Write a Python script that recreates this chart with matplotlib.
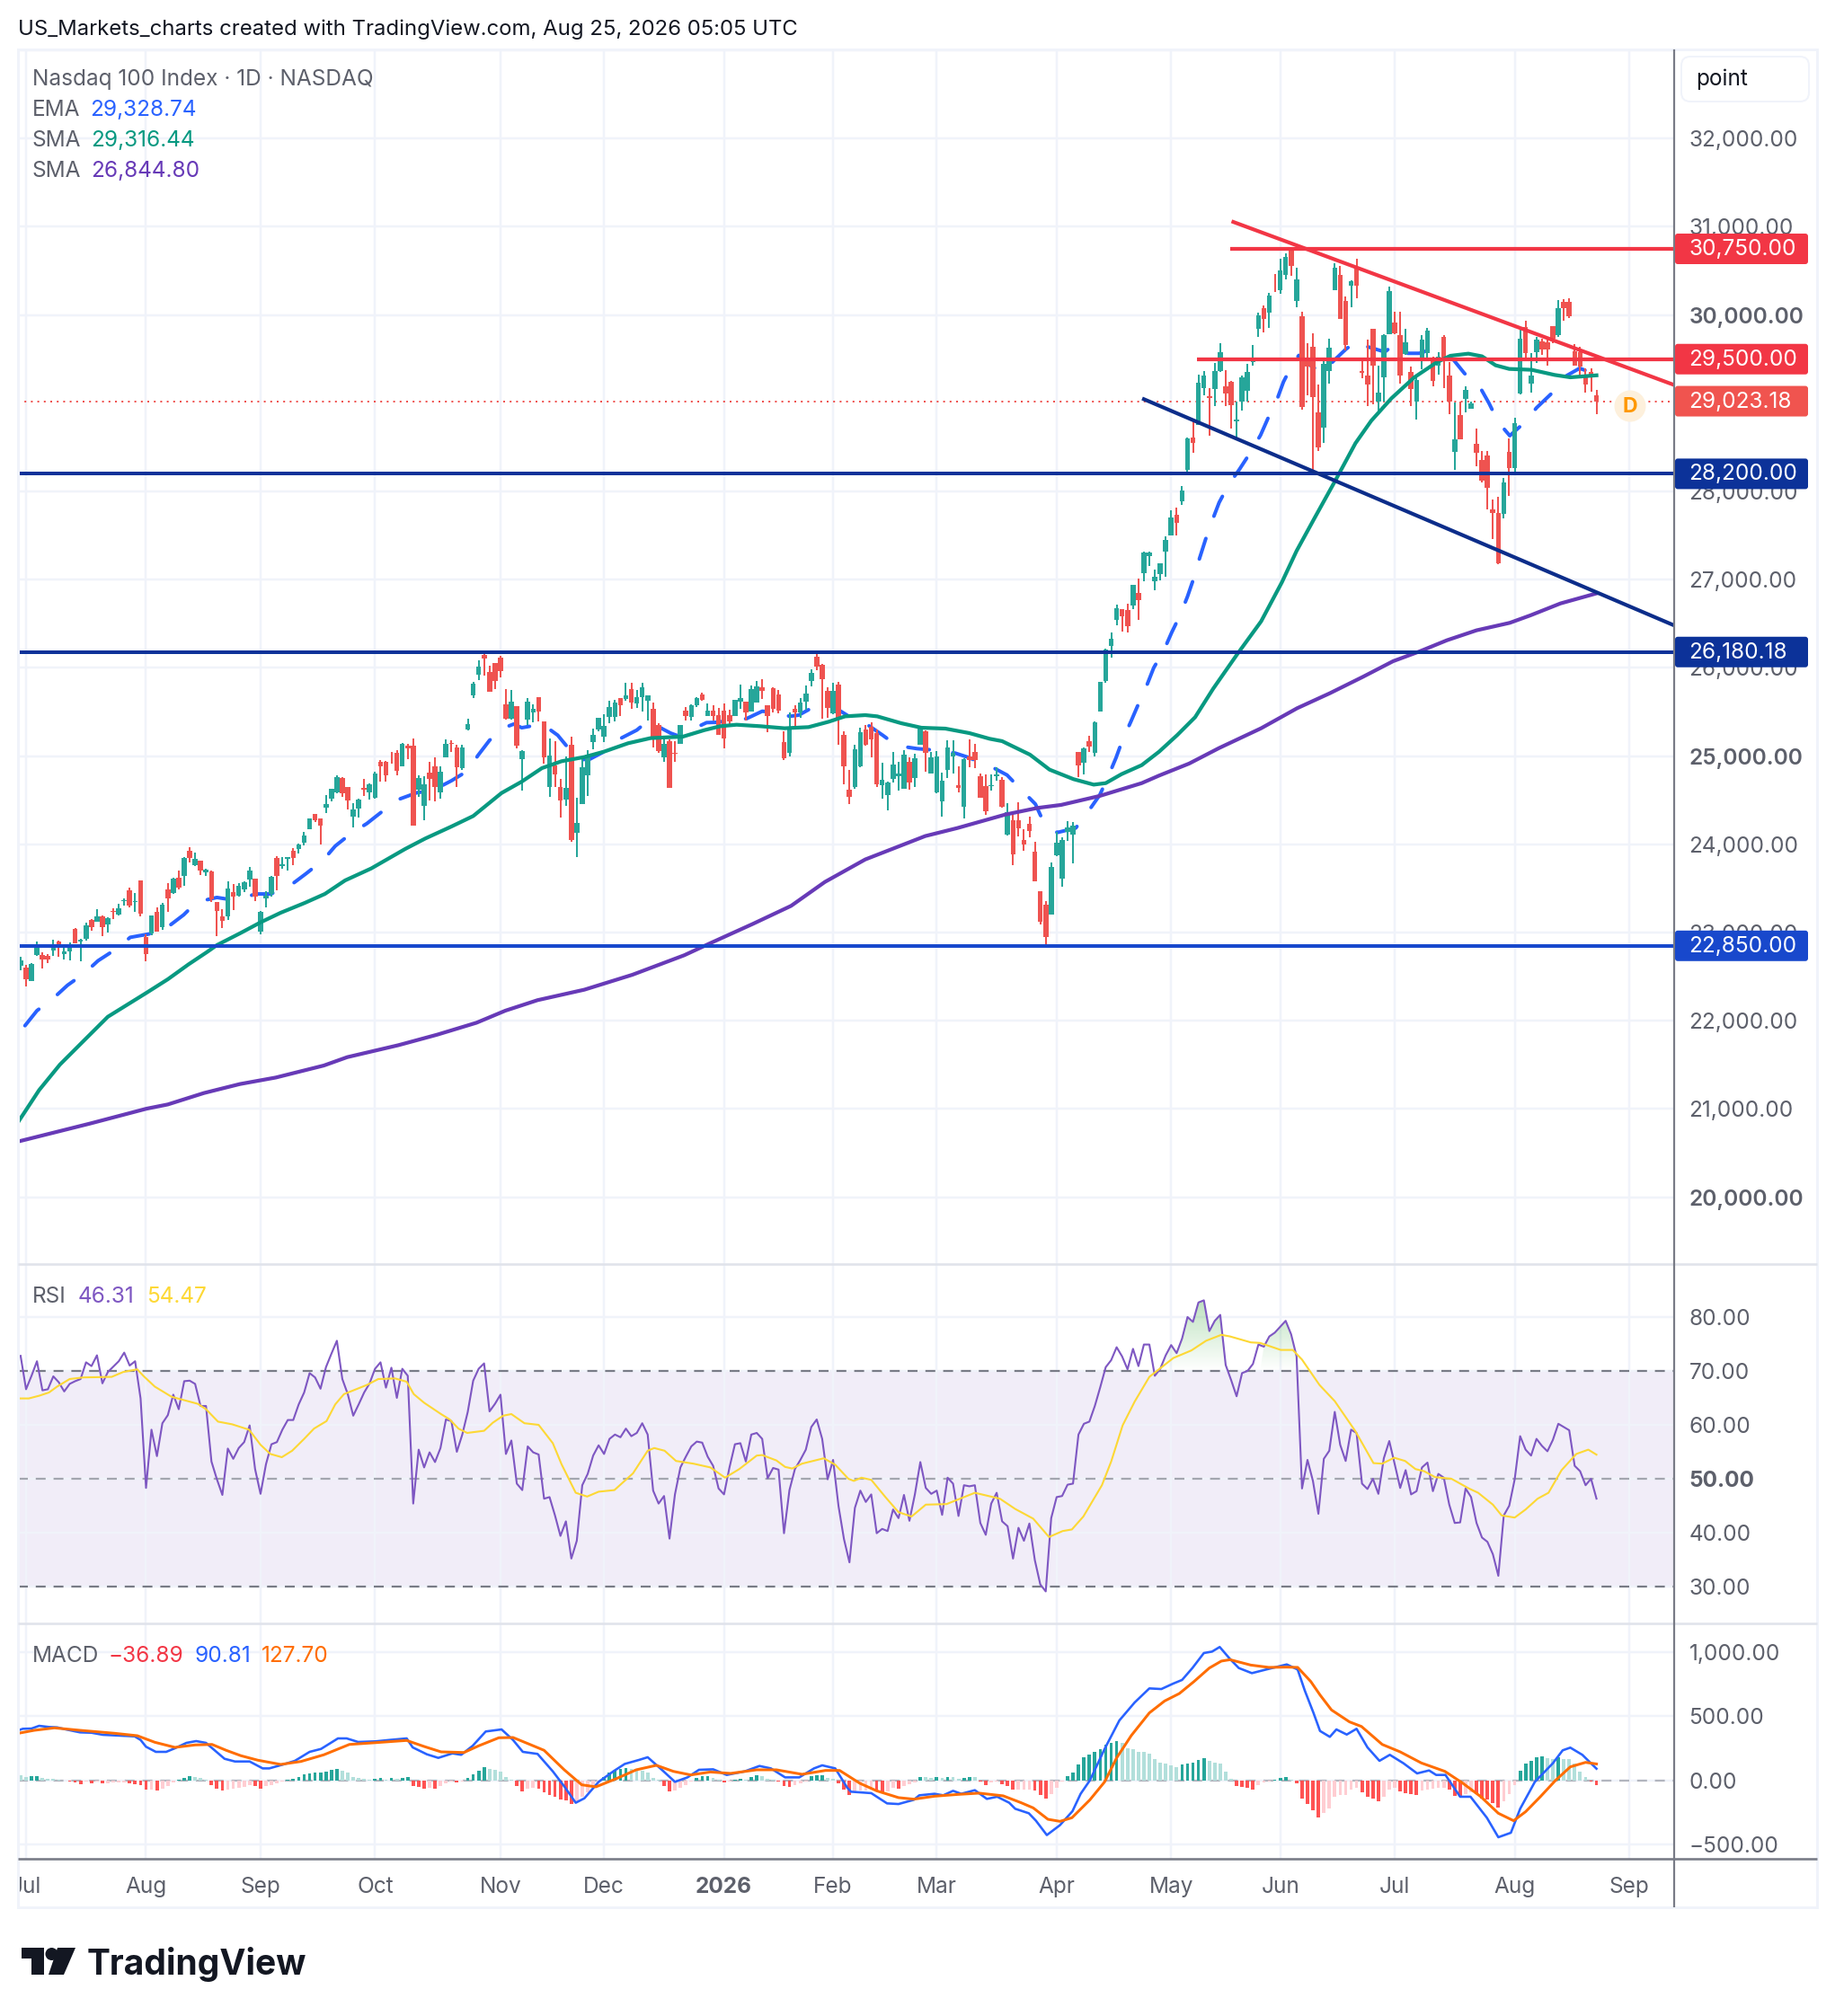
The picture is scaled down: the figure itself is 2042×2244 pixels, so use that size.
import numpy as np
import matplotlib
matplotlib.use("Agg")
import matplotlib.pyplot as plt
from matplotlib.patches import FancyBboxPatch, Polygon, Circle, Rectangle

plt.rcParams['font.family'] = ['Inter', 'DejaVu Sans']
plt.rcParams['ytick.alignment'] = 'center_baseline'
W, H = 2042, 2244

# ---------- candles, first bar is index -1 ----------
opens = [22624,22600,22454,22749,22749,22736,22800,22895,22760,22783,23038,
 22902,22929,23143,23126,23184,23092,23248,23201,23353,23479,
 23347,23591,22946,22987,23235,23058,23489,23449,23618,23642,
 23930,23761,23812,23686,23693,23347,23184,23184,23455,23421,
 23489,23598,23608,23007,23387,23438,23846,23754,23839,23930,
 23947,24015,24175,24345,24294,24416,24518,24586,24755,24650,
 24314,24406,24636,24592,24524,24932,24932,24989,25037,24888,
 25118,25118,24616,24440,24813,24881,24592,24989,25149,25098,
 24860,25305,25689,25926,26147,25950,26052,26113,25587,25424,
 25566,24969,25414,25492,25668,25390,24650,24894,24650,24507,
 25125,24134,24457,24786,25159,25305,25220,25448,25441,25655,
 25651,25757,25594,25669,25628,25533,25350,24983,25170,25041,
 25142,25519,25441,25574,25696,25458,25512,25468,25519,25465,
 25451,25618,25614,25509,25611,25781,25574,25774,25703,25159,
 25041,25540,25492,25618,25848,26127,26035,25740,25485,25811,
 25237,24620,24650,24881,25305,25336,25261,24667,24562,24745,
 24769,24630,24932,24752,25132,25282,24806,24589,24491,24847,
 24993,24667,24430,25000,25051,24773,24660,24657,24773,24735,
 24107,24270,24270,24050,24236,23914,23466,23313,23208,23880,
 23615,24145,24107,25044,24922,25173,25041,25509,25856,26250,
 26545,26667,26657,26708,26850,27078,27271,26983,27064,27319,
 27502,27736,27889,28242,28608,28758,29175,29077,29158,29362,
 29189,29243,28792,29023,29141,29471,29847,30075,30024,30336,
 30285,30458,30753,30160,29986,29481,29640,28894,28727,29362,
 30285,30455,30160,30329,30540,29362,29318,29844,29023,29294,
 29786,29915,29776,29555,29355,29023,29488,29566,29505,29430,
 29752,29311,28452,28863,29050,28941,28537,28361,28405,27801,
 27760,27750,28446,28269,29107,29864,29219,29576,29701,29695,
 29871,29769,30149,30149,29589,29583,29311,29355,29090]
closes = [22681,22471,22641,22872,22692,22695,22872,22827,22783,22861,22878,
 22919,23082,23065,23184,23065,23163,23235,23275,23370,23303,
 23353,23218,22760,23194,23014,23320,23387,23615,23506,23846,
 23846,23835,23703,23710,23377,23245,23133,23499,23411,23530,
 23571,23700,23411,23235,23421,23632,23642,23771,23852,23846,
 23998,24100,24290,24270,24212,24457,24626,24762,24575,24501,
 24395,24507,24619,24684,24806,24888,24786,24983,24837,25139,
 25091,24216,24752,24677,24745,24650,24823,25135,25135,24874,
 25098,25363,25818,26014,26109,25733,25855,25967,25424,25617,
 25118,25057,25617,25539,25505,24989,25006,24796,24497,24636,
 24049,24243,24874,25017,25237,25434,25339,25553,25610,25577,
 25685,25611,25669,25777,25685,25187,25058,25136,24644,25027,
 25350,25451,25580,25655,25638,25519,25451,25244,25204,25397,
 25635,25655,25499,25764,25787,25736,25458,25533,25519,24976,
 25316,25499,25604,25709,25940,26011,25872,25550,25740,25431,
 24888,24535,25078,25271,25126,25187,24677,24728,24701,24901,
 24803,25017,24705,24973,25322,25034,24983,25000,24718,25095,
 25034,24640,24966,24956,24959,24532,24379,24671,24796,24423,
 24365,23890,24185,23999,24155,23585,23126,22953,23744,24022,
 24050,24189,24209,24898,25092,25112,25383,25842,26212,26331,
 26674,26589,26473,26942,26769,27308,27308,27033,27186,27451,
 27705,27644,28011,28605,28554,29233,29311,29063,29362,29576,
 29114,28982,28812,29294,29355,29498,29997,29956,30221,30329,
 30506,30662,30560,30404,28955,29413,29073,28496,29447,29633,
 30540,29956,29657,30380,30336,29345,29216,29430,29118,29776,
 30272,29793,29318,29691,29165,29260,29718,29820,29253,29532,
 29498,29016,28592,28592,29148,28999,28439,28123,28038,27760,
 27190,28106,28269,28775,29729,29566,29311,29722,29610,29606,
 29735,30075,30081,29990,29430,29413,29209,29294,29023.18]
highs = [22726,22634,22651,22895,22776,22760,22919,22905,22838,22885,23048,
 22929,23109,23157,23262,23194,23177,23275,23326,23387,23506,
 23449,23591,22980,23194,23286,23337,23557,23625,23700,23856,
 23964,23903,23812,23727,23700,23347,23269,23581,23550,23557,
 23584,23740,23615,23245,23472,23642,23869,23852,23852,23954,
 24012,24141,24297,24345,24294,24558,24633,24779,24762,24650,
 24463,24514,24738,24694,24820,24955,24949,25050,25067,25146,
 25135,25196,24779,24772,24932,24989,24881,25186,25176,25125,
 25125,25424,25838,26086,26187,26028,26058,26137,25756,25746,
 25566,25067,25655,25587,25668,25390,25196,25169,24738,25000,
 25220,24524,25000,25067,25312,25434,25475,25627,25634,25655,
 25831,25831,25747,25831,25689,25604,25373,25187,25193,25170,
 25350,25553,25587,25669,25723,25594,25574,25543,25594,25526,
 25635,25808,25621,25797,25848,25872,25574,25781,25747,25278,
 25492,25577,25662,25797,25984,26164,26042,25781,25831,25838,
 25278,24847,25126,25322,25356,25383,25305,24925,24711,25051,
 24932,25068,24983,25024,25339,25288,25051,25058,24813,25180,
 25176,24881,24976,25187,25142,24803,24790,24796,24874,24762,
 24467,24372,24474,24168,24311,24026,23473,23354,23795,24141,
 24077,24263,24253,25051,25095,25231,25390,25842,26219,26402,
 26718,26667,26728,26942,27013,27319,27319,27115,27186,27492,
 27787,27817,28062,28615,28819,29328,29362,29175,29457,29678,
 29379,29250,29023,29311,29447,29657,30031,30109,30255,30465,
 30635,30696,30770,30533,30041,29684,29796,29209,29508,29729,
 30584,30557,30210,30397,30635,29498,29718,29844,29430,29786,
 30319,30041,30034,29844,29413,29311,29769,29854,29532,29583,
 29769,29464,29006,29023,29192,29023,28717,28462,28462,27909,
 27943,28157,28598,28836,29837,29939,29566,29752,29735,29735,
 29871,30170,30183,30190,29667,29640,29396,29396,29148]
lows = [22573,22393,22454,22736,22597,22658,22739,22726,22698,22688,22878,
 22675,22912,23024,23126,22963,23004,23157,23194,23303,23286,
 23235,23184,22678,22973,23007,23031,23235,23438,23489,23530,
 23795,23751,23652,23642,23347,22963,23048,23143,23252,23404,
 23455,23523,23360,22980,23286,23404,23479,23720,23703,23768,
 23896,23988,24168,24253,23998,24355,24484,24575,24541,24395,
 24195,24304,24548,24507,24518,24711,24711,24915,24786,24888,
 24966,24216,24541,24270,24497,24490,24518,24989,25050,24653,
 24847,25291,25661,25865,25916,25733,25763,25892,25414,25414,
 25091,24609,25356,25383,25390,24915,24541,24650,24304,24433,
 24032,23856,24457,24548,25078,25281,25159,25373,25390,25458,
 25627,25540,25543,25509,25407,25102,25034,24932,24644,24932,
 25142,25407,25407,25560,25628,25451,25407,25237,25092,25339,
 25451,25533,25407,25502,25607,25652,25271,25492,25485,24959,
 24993,25339,25431,25526,25791,25974,25424,25431,25475,25126,
 24684,24457,24630,24878,25119,24990,24654,24518,24389,24701,
 24610,24630,24620,24650,25132,24823,24800,24582,24318,24752,
 24803,24589,24297,24871,24868,24532,24338,24610,24718,24416,
 24100,23768,24094,23931,24084,23581,23096,22845,23204,23870,
 23524,24043,23788,24762,24796,25051,25000,25509,25832,26120,
 26484,26416,26402,26667,26545,26983,27156,26881,26993,27033,
 27502,27502,27848,28208,28435,28751,29090,28632,28972,29352,
 28972,28717,28581,28921,29023,29430,29752,29803,29854,30261,
 30244,30404,30441,30092,28928,29090,28198,28462,28547,29226,
 30278,29956,29600,30092,30194,29284,28972,28989,28921,29023,
 29786,29786,29226,29545,28972,28819,29386,29481,29192,29328,
 29175,28880,28242,28592,28894,28938,28283,28106,27794,27461,
 27180,27692,27953,28201,29100,29481,29124,29457,29549,29430,
 29684,29752,29939,29966,29430,29294,29124,29131,28880]

# ---------- moving averages: bar index and value at read-off knots ----------
ema_x = [-0.2,2,5.2,7.6,10.7,13.2,16.6,19.1,22.8,25.8,28.9,31.3,35,37.9,42.3,44.9,48.8,51.3,54.5,56.7,59.6,62.5,65.5,68.2,71.7,74.5,78,80.9,82.9,85,88,89.4,90.9,94.7,97.5,100,101.2,103.4,106,108.6,112,114,118.2,119.7,121.3,124.8,126.5,132.1,135,138.4,140,141.7,145,146.5,150.9,153.9,157.1,159.7,163.4,166.7,170.4,172.6,177,179.9,182.5,185.1,186.6,189.1,192.5,194.7,196.9,198.4,199.9,201,202.6,203.9,205.5,206.8,208.7,210.1,211.7,213,214.2,215.2,216.3,217.5,218.8,220.5,222.5,224.5,226.4,227.8,229.4,230.6,232.3,233.4,234.6,237.7,239.8,242.1,244.2,245.5,249.2,250.9,253.4,255.5,257.2,259.6,261.7,263.8,266.7,268.3,270,272.1,275,277,279.7,282,284.9,288]
ema_y = [21945,22115,22267,22403,22539,22681,22817,22946,22987,23055,23201,23347,23398,23370,23438,23438,23550,23666,23822,23981,24124,24236,24382,24507,24586,24609,24721,24830,25010,25180,25329,25363,25322,25363,25237,25050,24959,24966,25051,25187,25295,25397,25261,25227,25278,25380,25383,25424,25509,25492,25451,25465,25577,25621,25451,25373,25237,25119,25085,25068,25034,24990,24881,24786,24620,24457,24253,24134,24185,24365,24559,24762,24983,25170,25390,25577,25797,26001,26205,26402,26606,26810,27027,27241,27455,27665,27875,28072,28249,28439,28639,28836,29040,29243,29447,29542,29464,29345,29481,29616,29708,29650,29582,29667,29566,29566,29600,29549,29498,29338,29175,28999,28785,28632,28792,28948,29107,29294,29396,29328.74]
sma50_x = [-1.5,2.4,6.2,10.6,15,22.1,26,29.8,33.1,35,39.4,43,46.7,51.1,54.8,58.5,63.3,69.5,73.2,78,82,87.2,90.9,94.6,98.2,102.4,106,110.4,114.5,117.8,120.4,124.4,127.3,130.3,134.7,139.1,143.5,147.2,150.2,153.9,156.1,160.5,164.2,168.6,173,176.7,179,184.1,187.7,192.1,195.8,198,200.9,204.6,207.8,211.1,214.4,217.7,222.1,226.5,230.3,233,236.3,240.1,243.8,246.7,250.4,254.6,258.7,261.2,264.5,267,269.5,272,276.1,280.3,283.2,288]
sma50_y = [20848,21215,21503,21775,22046,22318,22471,22640,22776,22858,22997,23116,23225,23336,23438,23591,23727,23947,24066,24202,24321,24582,24711,24864,24942,24990,25051,25146,25204,25214,25220,25295,25339,25356,25339,25316,25329,25390,25451,25465,25451,25373,25322,25312,25261,25197,25170,25017,24847,24739,24677,24694,24796,24898,25051,25238,25442,25764,26154,26528,26970,27326,27699,28123,28547,28802,29056,29294,29464,29538,29562,29532,29430,29389,29379,29321,29294,29316.44]
sma200_x = [-1.5,11.7,22.1,26,32.6,39.2,45.8,54.6,58.9,68.3,75.4,82.6,87.9,93.8,102.4,111.2,120.7,125.2,133.3,140.3,146.5,153.9,164.9,170.8,179.6,185.5,189.8,196.9,204.6,207.8,213.3,218.8,226.5,233.1,239.1,245.2,250.7,255.6,260.6,266,272.1,275.9,281.4,288]
sma200_y = [20631,20835,21004,21052,21181,21283,21357,21493,21588,21724,21843,21978,22115,22234,22353,22522,22743,22872,23099,23303,23574,23829,24094,24185,24338,24413,24447,24549,24694,24780,24916,25092,25316,25543,25713,25900,26076,26188,26314,26426,26511,26596,26731,26844.8]

# ---------- levels and trend lines ----------
level_navy = [28200.00, 26180.18]
level_blue = 22850.00
level_red = [30750.00, 29500.00]
level_red_start = [220.8, 214.8]
last_price = 29023.18
trend_red_x, trend_red_y = [221.4, 302.16], [31055, 29209]
trend_navy_x, trend_navy_y = [205, 302.16], [29046, 26484]

# ---------- RSI per bar ----------
rsi_a = [72.8,66.6,69.1,71.8,66.4,66.6,69.0,67.9,66.2,67.6,68.1,68.5,71.6,70.9,72.9,67.7,69.8,70.8,71.8,73.4,71,71.8,64.9,48.3,59.1,54.2,60.3,61.8,65.6,62.9,68.1,68.2,67.6,63.5,63.5,53.2,49.9,47,55.6,53.7,55.7,56.8,59.9,51.8,47.2,52.7,56.4,56.8,59.1,60.9,60.9,63.8,66,69.6,68.8,66.7,70.7,73.2,75.6,68.5,65.7,61.7,63.8,66,67.7,70.4,71.6,66.9,70.6,65,70.4,69.1,45.4,55.4,52.1,54.9,53.1,55.7,61,60.7,55,58.2,62.4,68.2,70.4,71.4,62.5,63.9,65.6,54.6,57.1,49.1,47.9,56,54.9,54.5,46.3,46.6,43.2,39.4,42.1,35.2,38.5,48.8,50.9,54.3,56.2,54.6,57.4,58.2,57.7,59.3,57.9,58.5,60.3,58.2,47.8,45.4,46.8,38.9,47.1,52.1,54.1,56,56.9,56.7,54.1,52.4,48.2,47.1,52.1,56.4,56.6,53.2,58.2,58.5,57.4,50.1,52,51.7,39.9,47.9,51.8,53.5,55.4,59.6,61,57.4,49.9,53.5,44.9,38.8,34.5,44.6,47.8,45.7,47.1,39.9,40.7,40.3,44.3,42.7]
rsi_b = [47,42.2,47.1,53.1,48.3,47.2,47.8,43.3,50.2,49.1,43.1,48.8,48.6,48.8,41.8,39.6,45.4,47.4,42.1,41.2,35.2,40.9,38.5,41.7,34.9,30.4,29.1,42.7,46.6,46.8,48.9,49.1,58.2,60.2,60.6,63.5,67,70.7,72,74.4,72.7,70.3,74.1,70.9,74.9,74.9,69.1,70.4,72.9,74.8,73.3,76,80,79.1,82.7,83.1,77.4,79.3,80.4,71.1,68.3,65.3,69.6,70,71.3,74.9,74.5,76.4,77.1,78.2,79.3,76.8,72.7,48.2,53.5,49.6,43.5,53.7,55.2,62.4,56.3,53.3,59.1,58.5,49.1,48.1,50,47.2,53.8,57,52.7,48.3,51.6,47.1,47.7,52.1,53,47.7,50.9,50.2,45.2,41.8,41.9,48.2,46.6,41.8,39.1,38.3,36,32,43.2,45,49.9,57.9,55.4,54.3,57.4,56.1,55.1,57.2,60.2,59.6,59,52.4,51.4,48.8,50,46.31]
rsi_ma_x = [-1.4,.5,2.4,4.2,5.7,8,10.5,15.7,17.8,20.4,21.5,23.6,26.7,31.5,33,35.2,37.8,40.9,43,44.8,46.9,48.8,51,52.8,55.1,56.7,58.3,62.5,64.6,67.7,69.8,71.1,73,76.1,77.7,79.3,80.9,84,85.6,87.5,89,91.4,94,96.6,98.2,100.8,102.9,105,107.9,111.3,114,115.2,117.1,119.2,122.4,125.5,128.2,130.8,134,135,137.6,139.2,140.5,142.3,146.3,148.4,150.8,151.8,153.2,155,157.6,160,162.4,165,168.8,174,178.6,181.4,184.7,187.6,190.1,191.8,193.9,197.3,199,201.1,203.3,206,210.4,213.7,216.4,219.2,220.8,224.6,226.3,230.1,232.3,234,237.2,240,243.8,247.1,248.7,250.9,252.9,254.8,256.4,258.4,261.4,264.6,266.3,269,270.6,273,275,277.2,279.2,281.6,284.3,286.5,288]
rsi_ma_y = [64.9,64.9,65.4,66,67.1,68.5,68.8,68.9,69.8,70.3,69.1,67.1,65.2,63.9,62.9,60.6,60.1,59.1,56.3,54.6,54,55.2,57.4,59.3,60.7,63.8,65.7,67.4,68.5,68.6,68,65.7,64.1,62,61,59.3,58.5,58.9,60.4,61.7,62,60.3,60,56.6,52.7,47.4,46.7,47.6,47.9,51,55.2,55.7,55.2,53.3,52.8,52.1,50.2,51.8,54.3,54.4,53.4,52.2,51.9,52.8,53.8,52.6,50,49.6,50.2,49.8,46.6,43.8,43,45.2,45.3,47.4,46.3,44.4,42.6,39.2,40.3,40.6,43,48.8,53.2,59.9,64.3,68.9,72.4,73.8,75.6,76.7,76.4,75.3,75.2,73.9,73.9,72.1,67.4,64.4,58.8,52.9,52.8,53.9,53.3,51.8,51.4,50.3,50,48.2,47.4,45.2,43.2,42.8,44.3,46.3,47.4,51.6,54.6,55.4,54.47]

# ---------- MACD ----------
macd_x = [-1.4,-.6,1,2.4,4.2,5.7,7.3,9.9,12,14.1,17.3,19.9,21,22,23.8,25.7,27.3,29.4,31.2,33,34.6,36.4,38.3,41,43.4,44.6,47.2,49.3,52,54.1,57.2,58.8,60.9,64.1,66.7,69.8,70.9,73.5,75.6,78.2,79.8,81.9,84.3,87.2,89.3,91.1,93.8,96.6,98.7,100.8,102.4,105,107.7,109.8,112.4,114,116.6,119,121.3,123.4,126,128.5,131.8,134.5,136.6,139.2,141.8,144.5,146,148.4,150.6,151.3,155,157.9,160,162.8,163.8,166.6,168.2,170,171.5,174,176.2,178.1,180.3,181.4,183.9,185.2,187.2,189.6,191.9,193.4,195.1,197.8,200.5,203.3,206,208.2,210.4,212,213.9,216,217.5,218.9,220.8,222.4,224.8,227.4,231.2,233.2,234.5,236.1,237.3,239.1,240.3,242.2,244,246,248.2,250.1,252.6,255.1,257.3,258.6,260.3,263,264.9,267.9,270,272.3,274,276.7,280,281.8,283.2,285.4,288]
macd_y = [390,402,404,425,416,413,397,374,371,355,348,343,315,262,222,222,250,292,306,292,234,168,147,147,93,93,124,152,222,245,327,327,299,304,315,327,257,203,175,210,199,269,381,397,315,222,206,70,-47,-175,-140,-12,70,128,159,180,82,-12,23,82,86,42,70,112,93,23,23,93,117,93,-58,-89,-100,-180,-185,-152,-117,-105,-117,-82,-105,-77,-145,-128,-175,-222,-257,-315,-427,-350,-241,-105,0,245,467,607,717,712,755,783,876,993,1004,1040,946,876,836,864,904,864,701,526,385,339,397,357,402,257,152,199,133,54,77,42,42,-128,-128,-292,-444,-409,-222,-12,133,234,255,199,90.81]
signal_x = [-1.4,1.5,5.2,9.9,16.2,20.4,23.6,27.3,31,34.1,36.7,39.4,42.5,46.7,50.4,54.6,59.3,63.5,69.8,73,76.1,80.3,83,86.7,89.3,92.4,95,98.7,101.9,104.5,108.2,111.9,115.6,118.7,121.9,125.5,129.2,134,137.6,142.3,146.6,149.2,152.9,156,160,162.8,166.6,170.9,174.8,179.2,182.5,184.7,187.4,189.6,191.8,195.1,197.8,200,202.7,206,208.8,211.5,214.2,217,219.2,220.8,224.6,227.9,231.2,233.2,235.6,237.3,239.4,242.7,244.9,248.7,252,255.9,260.2,263.5,266.8,270,272.8,275,277.7,280.5,283.2,286,288]
signal_y = [367,390,409,390,367,348,297,257,276,280,234,192,157,124,147,199,280,292,311,264,222,217,269,332,334,280,234,82,-35,-51,12,82,117,70,42,65,54,82,82,47,77,77,-23,-82,-135,-147,-124,-110,-100,-121,-175,-215,-304,-320,-292,-152,-12,175,350,526,619,677,771,876,930,941,899,881,883,881,771,666,549,456,420,280,222,135,70,-23,-128,-257,-315,-245,-128,0,105,140,127.70]
macd_hist = [37,28,30,35,19,12,9,5,-5,-9,-19,-28,-12,-21,-12,-23,-23,-16,-16,-14,-23,-28,-40,-70,-70,-82,-63,-47,-19,5,19,30,28,16,5,-35,-65,-82,-70,-65,-61,-51,-35,-42,-65,-47,-35,-23,-12,5,12,28,47,56,58,61,70,82,89,75,58,28,19,12,7,12,19,7,19,12,19,23,-47,-51,-65,-61,-65,-47,-23,-7,-19,-7,19,47,77,100,89,82,70,23,2,-47,-86,-63,-58,-65,-93,-117,-128,-152,-159,-187,-168,-128,-93,-51,-12,23,58,77,89,93,86,82,75,58,19,5,-47,-86,-77,-58,-35,-12,19,30,33,19,7,-19,-7,5,12,7,28,40,35,12,7,-7,-47,-51,-35,-23,-12,30,40,42,19,12,-23,-70,-117,-89,-82,-77,-75,-82,-93,-89,-58,-65,
 -47,-28,-14,28,28,19,28,19,28,28,12,19,23,23,-12,-35,-19,-12,-28,-47,-70,-70,-70,-70,-82,-117,-145,-105,-58,-12,35,58,121,182,199,222,245,280,292,304,292,252,241,222,222,206,164,140,128,117,105,121,128,135,159,175,152,135,128,70,12,-47,-51,-58,-70,-35,-19,-12,7,16,23,7,-23,-140,-182,-234,-292,-257,-222,-128,-117,-117,-70,-58,-93,-128,-140,-164,-128,-70,-58,-89,-98,-105,-112,-82,-70,-65,-58,-58,-70,-121,-128,-105,-93,-105,-140,-152,-175,-210,-164,-105,-35,77,128,152,182,187,175,168,182,168,164,128,70,23,-7,-36.89]

month_idx = [0,22,43,64,87,106,128,148,167,189,210,230,251,273,294]
month_lab = ['Jul','Aug','Sep','Oct','Nov','Dec','2026','Feb','Mar','Apr','May','Jun','Jul','Aug','Sep']
price_ticks_shown = [20000,21000,22000,23000,24000,25000,26000,27000,28000,30000,31000,32000]
rsi_ticks = [30,40,50,60,70,80]
macd_ticks = [-500,0,500,1000]

# ---------- colours ----------
UP, DOWN = '#26a69a', '#ef5350'
GRID = '#f0f3fa'
TXT = '#5d606b'
AXIS = '#787b86'
SEP = '#e0e3eb'
NAVY = '#0c3299'
BRIGHT = '#1848cc'
RED = '#f23645'
PX = 72 / 100.0   # one pixel in points at dpi 100
FS = 24.4

fig = plt.figure(figsize=(W / 100, H / 100), dpi=100, facecolor='white')

def pane(top, bottom):
    return fig.add_axes([20 / W, 1 - bottom / H, (1862.5 - 20) / W, (bottom - top) / H])

XLIM = (-1.483, 302.16)
ax = pane(55, 1407)
ax_rsi = pane(1407, 1807)
ax_macd = pane(1807, 2069)
ax.set_ylim(19243, 33010.6)
ax_rsi.set_ylim(23.17, 89.83)
ax_macd.set_ylim(-612, 1224)

for a in (ax, ax_rsi, ax_macd):
    a.set_xlim(*XLIM)
    a.set_xticks(month_idx)
    a.grid(True, color=GRID, lw=2.5 * PX, zorder=0)
    a.set_axisbelow(True)
    for s in a.spines.values():
        s.set_visible(False)
    a.yaxis.tick_right()
    a.tick_params(axis='both', length=0, labelsize=FS * PX, labelcolor=TXT, pad=17 * PX)
    a.tick_params(axis='x', labelbottom=False)

# ---------- candles ----------
x = np.arange(-1, len(opens) - 1)
o, c, hi, lo = map(np.array, (opens, closes, highs, lows))
col = np.where(c >= o, UP, DOWN)
ax.vlines(x, lo, hi, colors=col, lw=2 * PX, zorder=3)
ax.bar(x, np.maximum(np.abs(c - o), 8), bottom=np.minimum(o, c), width=0.92, color=col, lw=0, zorder=3)

ax.plot(ema_x, ema_y, color='#2962ff', lw=4 * PX, ls=(0, (6, 6.6)), dash_capstyle='round',
        dash_joinstyle='round', zorder=2.8)
ax.plot(sma50_x, sma50_y, color='#089981', lw=4.2 * PX, solid_joinstyle='round', zorder=4)
ax.plot(sma200_x, sma200_y, color='#673ab7', lw=4.2 * PX, solid_joinstyle='round', zorder=4)

# ---------- levels ----------
ax.axhline(last_price, color=DOWN, lw=2 * PX, ls=(0, (1, 2.6)), zorder=2.7)
for lv in level_navy:
    ax.axhline(lv, color=NAVY, lw=4 * PX, zorder=5)
ax.axhline(level_blue, color=BRIGHT, lw=4 * PX, zorder=5)
for lv, st in zip(level_red, level_red_start):
    ax.plot([st, XLIM[1]], [lv, lv], color=RED, lw=4.2 * PX, solid_capstyle='butt', zorder=5)
ax.plot(trend_red_x, trend_red_y, color=RED, lw=4.2 * PX, zorder=5)
ax.plot(trend_navy_x, trend_navy_y, color='#0c2d8a', lw=4.2 * PX, zorder=5)

ax.set_yticks(price_ticks_shown + [33000])
ax.set_yticklabels([f'{v:,.2f}' for v in price_ticks_shown] + [''])
for lab, v in zip(ax.get_yticklabels(), price_ticks_shown):
    if v in (20000, 25000, 30000):
        lab.set_fontweight('semibold')

# ---------- RSI ----------
ax_rsi.axhspan(30, 70, color='#7e57c2', alpha=0.1, lw=0, zorder=0.5)
ax_rsi.set_yticks(rsi_ticks)
ax_rsi.set_yticklabels([f'{v:.2f}' for v in rsi_ticks])
ax_rsi.get_yticklabels()[2].set_fontweight('bold')
ax_rsi.axhline(70, color=AXIS, lw=2.2 * PX, ls=(0, (5, 4)), zorder=1)
ax_rsi.axhline(30, color=AXIS, lw=2.2 * PX, ls=(0, (5, 4)), zorder=1)
ax_rsi.axhline(50, color='#a3a6af', lw=2.2 * PX, ls=(0, (5, 4)), zorder=1)

rsi = np.array(rsi_a + rsi_b)
rx = np.arange(-1, len(rsi) - 1)
grad = np.zeros((100, 2, 4))
grad[..., :3] = matplotlib.colors.to_rgb('#4caf50')
grad[..., 3] = np.linspace(0.38, 0, 100)[:, None]
for a0, a1 in ((207.1, 220.0), (226.3, 233.3)):
    m = (rx >= a0) & (rx <= a1)
    verts = [(a0, 70)] + list(zip(rx[m], np.maximum(rsi[m], 70))) + [(a1, 70)]
    poly = Polygon(verts, closed=True, transform=ax_rsi.transData, fc='none', ec='none')
    ax_rsi.add_patch(poly)
    im = ax_rsi.imshow(grad, extent=[a0, a1, 70, 83.5], origin='upper', aspect='auto', zorder=1.5)
    im.set_clip_path(poly)
ax_rsi.set_xlim(*XLIM)
ax_rsi.set_ylim(23.17, 89.83)
ax_rsi.plot(rx, rsi, color='#7e57c2', lw=2.1 * PX, zorder=3)
ax_rsi.plot(rsi_ma_x, rsi_ma_y, color='#fdd835', lw=2.1 * PX, zorder=3.5)

# ---------- MACD ----------
hist = np.array(macd_hist, dtype=float)
hx = np.arange(-1, len(hist) - 1)
prev = np.r_[hist[0], hist[:-1]]
hcol = [('#26a69a' if v > p else '#b2dfdb') if v >= 0 else ('#ff5252' if v < p else '#ffcdd2')
        for v, p in zip(hist, prev)]
ax_macd.bar(hx, hist, width=0.62, color=hcol, lw=0, zorder=2)
ax_macd.set_yticks(macd_ticks)
ax_macd.set_yticklabels([f'{v:,.2f}'.replace('-', '\u2212') for v in macd_ticks])
ax_macd.axhline(0, color='#b2b5be', lw=2.2 * PX, ls=(0, (5, 4)), zorder=1.5)
ax_macd.plot(macd_x, macd_y, color='#2962ff', lw=2.6 * PX, zorder=3)
ax_macd.plot(signal_x, signal_y, color='#ff6d00', lw=3 * PX, zorder=3.5)

ax_macd.tick_params(axis='x', labelbottom=True, pad=20 * PX)
ax_macd.set_xticklabels(month_lab)
for lab, name in zip(ax_macd.get_xticklabels(), month_lab):
    if name == '2026':
        lab.set_fontweight('bold')
first = ax_macd.get_xticklabels()[0]
first.set_clip_on(True)
first.set_clip_box(matplotlib.transforms.TransformedBbox(
    matplotlib.transforms.Bbox([[20 / W, 0], [1, 1]]), fig.transFigure))

# ---------- overlay in pixel space: frame, legends, price tags, logo ----------
ov = fig.add_axes([0, 0, 1, 1], zorder=20)
ov.set_xlim(0, W)
ov.set_ylim(H, 0)
ov.axis('off')
ov.patch.set_alpha(0)

ov.add_patch(Rectangle((20, 55), 2002, 2068, fc='none', ec=GRID, lw=3 * PX, zorder=1))
for y_ in (1407, 1807):
    ov.plot([20, 2022], [y_, y_], color=SEP, lw=2.6 * PX, zorder=2, solid_capstyle='butt')
ov.plot([20, 2022], [2069, 2069], color=AXIS, lw=2.6 * PX, zorder=3, solid_capstyle='butt')
ov.plot([1862.5, 1862.5], [55, 2123], color=AXIS, lw=2.2 * PX, zorder=3, solid_capstyle='butt')

def t(px, py, s, color=TXT, size=FS, **kw):
    return ov.text(px, py, s, color=color, fontsize=size * PX, va='center', ha=kw.pop('ha', 'left'), **kw)

t(20, 33, 'US_Markets_charts created with TradingView.com, Aug 25, 2026 05:05 UTC', '#131722', 23.9)
t(35.5, 88, 'Nasdaq 100 Index \u00b7 1D \u00b7 NASDAQ')
t(35.5, 122, 'EMA'); t(100.5, 122, '29,328.74', '#2962ff')
t(35.5, 156, 'SMA'); t(101.5, 156, '29,316.44', '#089981')
t(35.5, 190, 'SMA'); t(101.5, 190, '26,844.80', '#673ab7')
t(35.5, 1443, 'RSI'); t(87, 1443, '46.31', '#7e57c2'); t(163, 1443, '54.47', '#fdd835')
t(35.5, 1843, 'MACD'); t(120, 1843, '\u221236.89', '#f23645'); t(216, 1843, '90.81', '#2962ff'); t(291, 1843, '127.70', '#ff6d00')

ov.add_patch(FancyBboxPatch((1871, 63), 142, 50, boxstyle='round,pad=0,rounding_size=10',
                            fc='white', ec=GRID, lw=2 * PX, zorder=4))
t(1887, 88, 'point', '#131722', FS, zorder=5)

def py_of(p):
    return H - ax.transData.transform((0, p))[1]

for p_, fc_ in ((30750.00, RED), (29500.00, RED), (29023.18, '#f0544f'),
                (28200.00, NAVY), (26180.18, NAVY), (22850.00, BRIGHT)):
    yy = py_of(p_)
    ov.add_patch(FancyBboxPatch((1864, yy - 17), 148, 34, boxstyle='round,pad=0,rounding_size=3',
                                fc=fc_, ec='none', zorder=6))
    t(1879.5, yy + 0.5, f'{p_:,.2f}', 'white', FS, zorder=7)

ov.add_patch(Circle((1814, 452), 17.5, fc='#fdf0dc', ec='none', zorder=4))
t(1814, 453, 'D', '#ff9800', 23, ha='center', fontweight='bold', zorder=5)

# TradingView logotype
K = '#131722'
ov.add_patch(Polygon([(24, 2168), (49, 2168), (49, 2198), (35, 2198), (35, 2180), (24, 2180)], fc=K, ec='none', zorder=6))
ov.add_patch(Circle((57.5, 2175), 7, fc=K, ec='none', zorder=6))
ov.add_patch(Polygon([(64, 2168), (84, 2168), (71, 2198), (54, 2198)], fc=K, ec='none', zorder=6))
t(97, 2187, 'TradingView', K, 39, fontweight='bold', zorder=6)

fig.savefig('out.png', dpi=100, facecolor='white')
